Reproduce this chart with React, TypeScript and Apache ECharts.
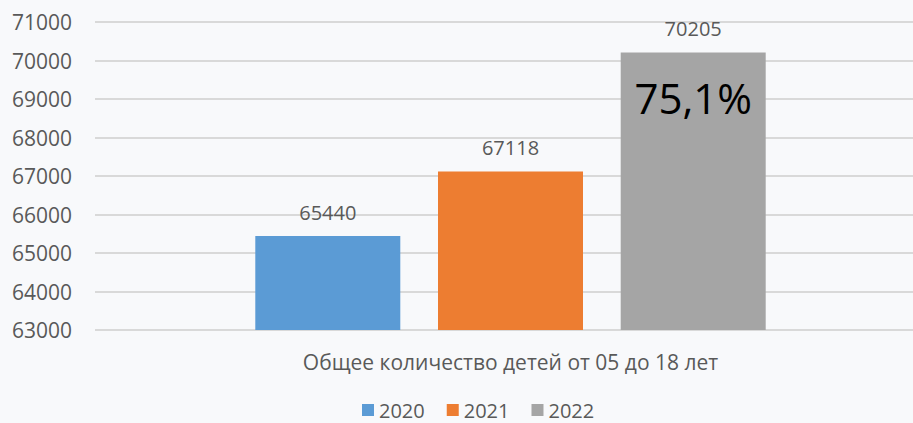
import React, { useEffect, useRef } from "react";
import * as echarts from "echarts";

const categories = ["Общее количество детей от 05 до 18 лет"];
const seriesNames = ["2020", "2021", "2022"];
const values2020 = [65440];
const values2021 = [67118];
const values2022 = [70205];
const colors = ["#5B9BD5", "#ED7D31", "#A5A5A5"];
const annotationText = "75,1%";
const annotationValue = 69050;
const yMin = 63000;
const yMax = 71000;
const yInterval = 1000;

export default function App() {
  const ref = useRef<HTMLDivElement>(null);
  useEffect(() => {
    if (!ref.current) return;
    const chart = echarts.init(ref.current, undefined, { renderer: "svg" });
    const font = "'Open Sans', sans-serif";
    const textColor = "#595959";
    const mk = (name: string, data: number[], color: string, extra: any = {}) => ({
      name,
      type: "bar",
      data,
      barWidth: 145,
      barGap: "26%",
      itemStyle: { color },
      label: {
        show: true,
        position: "top",
        distance: 14,
        color: textColor,
        fontSize: 20,
        fontFamily: font,
      },
      ...extra,
    });
    chart.setOption({
      animation: false,
      backgroundColor: "#f8f9fb",
      color: colors,
      grid: {
        left: 95,
        top: 22,
        width: 831,
        bottom: 93,
        containLabel: false,
        outerBoundsMode: "none",
      },
      legend: {
        data: seriesNames,
        left: 357,
        top: 395,
        itemWidth: 12,
        itemHeight: 12,
        itemGap: 22,
        icon: "rect",
        textStyle: { color: textColor, fontSize: 20, fontFamily: font },
      },
      xAxis: {
        type: "category",
        data: categories,
        axisLine: { show: false },
        axisTick: { show: false },
        axisLabel: { color: textColor, fontSize: 21, fontFamily: font, margin: 21 },
      },
      yAxis: {
        type: "value",
        min: yMin,
        max: yMax,
        interval: yInterval,
        axisLine: { show: false },
        axisTick: { show: false },
        axisLabel: {
          color: textColor,
          fontSize: 21,
          fontFamily: font,
          margin: 23,
          formatter: (v: number) => String(v),
        },
        splitLine: { lineStyle: { color: "#d9d9d9", width: 2 } },
      },
      series: [
        mk(seriesNames[0], values2020, colors[0]),
        mk(seriesNames[1], values2021, colors[1]),
        mk(seriesNames[2], values2022, colors[2], {
          markPoint: {
            symbol: "rect",
            symbolSize: 1,
            itemStyle: { color: "transparent" },
            label: {
              show: true,
              position: "inside",
              formatter: annotationText,
              color: "#000",
              fontSize: 42,
              fontFamily: font,
            },
            data: [{ coord: [categories[0], annotationValue] }],
          },
        }),
      ],
    });
    return () => chart.dispose();
  }, []);
  return (
    <div
      ref={ref}
      style={{ position: "absolute", left: 0, top: 0, width: 913, height: 423 }}
    />
  );
}
